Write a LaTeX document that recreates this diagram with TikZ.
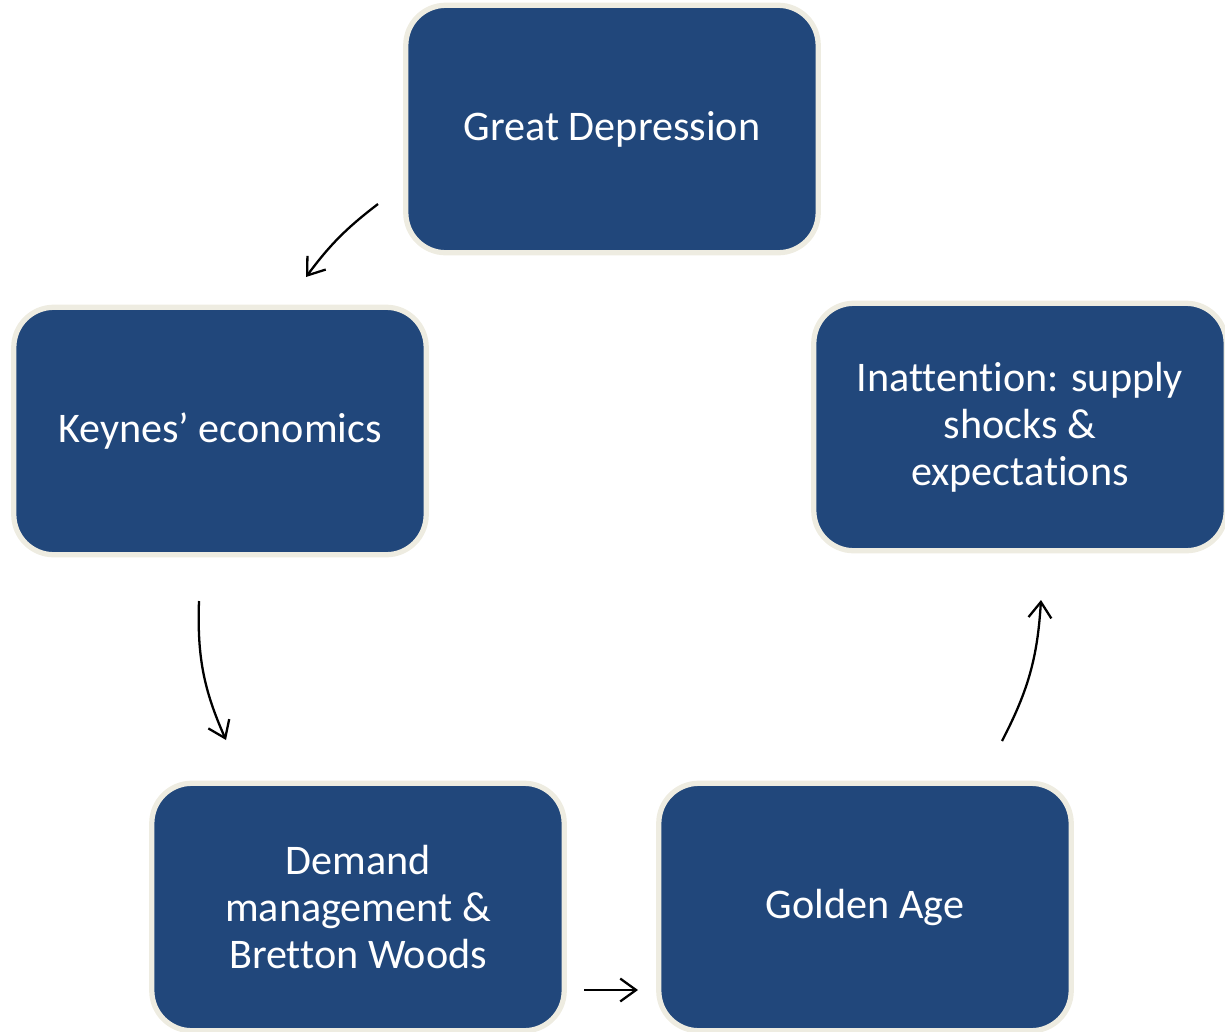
\documentclass[tikz,border=0pt]{standalone}
\usepackage{fontspec}
\setmainfont{Carlito}[Ligatures=CommonOff]
\usepackage{xcolor}
\usepackage{tikz}
\usetikzlibrary{arrows.meta, positioning}

\definecolor{boxblue}{HTML}{21477B}
\definecolor{boxrim}{HTML}{EEECE1}

\begin{document}
\begin{tikzpicture}[x=0.02cm, y=-0.02cm,
        phase/.style={draw=boxrim, line width=3pt, fill=boxblue, rounded corners=0.8cm,
            minimum width=8.25cm, minimum height=4.95cm, text=white, align=center,
            font=\fontsize{24}{26.8}\selectfont},
        flow/.style={-{Straight Barb[length=9pt, width=13pt, line width=1.3pt]}, line width=1.3pt}]
        \useasboundingbox (0,0) rectangle (1225,1032);

        \node[phase] (dep)    at (612,129) {Great Depression};
        \node[phase] (keynes) at (220,431) {Keynes’ economics};
        \node[phase] (demand) at (358,907) {Demand\\management \&\\Bretton Woods};
        \node[phase] (golden) at (865,907) {Golden Age};
        \node[phase] (inatt)  at (1020,427) {Inattention: supply\\shocks \&\\expectations};

        \coordinate (a1) at (378,204);  \coordinate (b1) at (306,277);
        \coordinate (a2) at (199,601);  \coordinate (b2) at (226,740);
        \coordinate (a3) at (584,990);  \coordinate (b3) at (638,990);
        \coordinate (a4) at (1002,741); \coordinate (b4) at (1041,600);

        \path[flow]
        (a1) edge [bend right=8] (b1)
        (a2) edge [bend right=13] (b2)
        (a3) edge (b3)
        (a4) edge [bend right=12] (b4);
    \end{tikzpicture}
\end{document}
